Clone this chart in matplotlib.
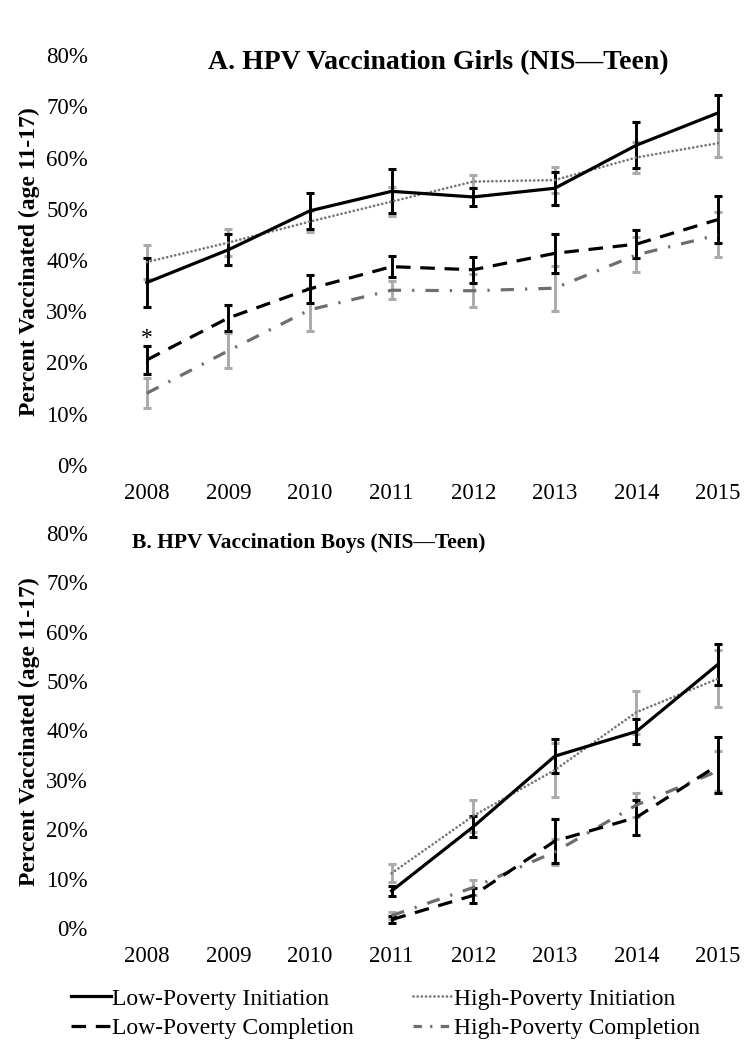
import numpy as np
import matplotlib
matplotlib.use('Agg')
import matplotlib.pyplot as plt
from matplotlib.lines import Line2D
from matplotlib.ticker import FuncFormatter

plt.rcParams['font.family'] = ['Liberation Serif', 'DejaVu Serif']
plt.rcParams['lines.scale_dashes'] = False

years = ['2008', '2009', '2010', '2011', '2012', '2013', '2014', '2015']

# Panel A - girls (percent)
girls_low_init = [35.6, 42.0, 49.6, 53.4, 52.3, 54.0, 62.4, 68.7]
girls_low_init_err = [4.7, 3.0, 3.5, 4.3, 1.7, 3.2, 4.5, 3.4]
girls_high_init = [39.6, 43.4, 47.5, 51.4, 55.3, 55.6, 60.0, 62.8]
girls_high_init_err = [3.4, 2.7, 2.0, 2.9, 1.2, 2.6, 3.1, 2.7]
girls_low_comp = [20.5, 28.7, 34.4, 38.7, 38.1, 41.3, 43.1, 47.9]
girls_low_comp_err = [2.7, 2.6, 2.7, 2.1, 2.5, 3.8, 2.8, 4.6]
girls_high_comp = [14.0, 22.3, 30.3, 34.1, 34.0, 34.5, 41.0, 44.9]
girls_high_comp_err = [2.9, 3.4, 4.2, 1.8, 3.2, 4.4, 3.4, 4.4]

# Panel B - boys, data only from 2011
boys_years = ['2011', '2012', '2013', '2014', '2015']
boys_low_init = [7.5, 20.5, 34.8, 39.8, 53.4]
boys_low_init_err = [1.0, 2.1, 3.4, 2.6, 4.2]
boys_high_init = [11.1, 22.7, 32.0, 43.7, 50.5]
boys_high_init_err = [1.8, 3.2, 5.4, 4.4, 5.8]
boys_low_comp = [1.7, 6.6, 17.6, 22.4, 33.0]
boys_low_comp_err = [0.7, 1.6, 4.4, 3.6, 5.6]
boys_high_comp = [2.5, 8.2, 15.4, 24.9, 31.8]
boys_high_comp_err = [0.7, 1.5, 2.7, 2.5, 4.1]

LW = 2.3
styles = {
    'li': dict(color='black', linestyle='-', lw=LW),
    'hi': dict(color='#777777', linestyle=(0, (0.01, 3.0)), lw=2.0, dash_capstyle='round'),
    'lc': dict(color='black', linestyle=(0, (10.5, 7.0)), lw=LW),
    'hc': dict(color='#6e6e6e', linestyle=(0, (9.5, 8.0, 1.6, 8.0)), lw=LW),
}
err_color = {'li': 'black', 'hi': '#ababab', 'lc': 'black', 'hc': '#ababab'}


def draw_panel(ax, x, series):
    # series: list of (key, values, errors)
    for key, vals, errs in series:
        ax.errorbar(x, vals, yerr=errs, fmt='none', ecolor=err_color[key],
                    elinewidth=2.1, capsize=2.8, capthick=2.2,
                    zorder=2 if key in ('hi', 'hc') else 3)
    for key, vals, errs in series:
        ax.plot(x, vals, zorder=4, **styles[key])
    ax.set_xlim(-0.5, (747 - 106) / 81.6 - 0.5)
    ax.set_ylim(0, 80)
    ax.set_yticks(np.arange(0, 81, 10))
    ax.yaxis.set_major_formatter(FuncFormatter(lambda v, p: f'{int(v)}%'))
    ax.set_xticks(range(len(years)))
    ax.set_xticklabels(years)
    ax.tick_params(axis='both', length=0, labelsize=16.5)
    ax.tick_params(axis='y', pad=13)
    ax.tick_params(axis='x', pad=13)
    for s in ax.spines.values():
        s.set_visible(False)


fig = plt.figure(figsize=(7.47, 10.5), dpi=100)

ax1 = fig.add_axes([106 / 747, 585 / 1050, 641 / 747, 410 / 1050])
xg = np.arange(len(years))
draw_panel(ax1, xg, [
    ('hi', girls_high_init, girls_high_init_err),
    ('li', girls_low_init, girls_low_init_err),
    ('hc', girls_high_comp, girls_high_comp_err),
    ('lc', girls_low_comp, girls_low_comp_err),
])
ax1.text(0, 23.6, '*', ha='center', va='baseline', fontsize=17)

ax2 = fig.add_axes([106 / 747, 122 / 1050, 641 / 747, 395 / 1050])
xb = np.array([years.index(y) for y in boys_years])
draw_panel(ax2, xb, [
    ('hi', boys_high_init, boys_high_init_err),
    ('li', boys_low_init, boys_low_init_err),
    ('hc', boys_high_comp, boys_high_comp_err),
    ('lc', boys_low_comp, boys_low_comp_err),
])

fig.text(438 / 747, 1 - 63 / 1050, 'A. HPV Vaccination Girls (NIS—Teen)',
         ha='center', va='center', fontsize=20, fontweight='bold')
fig.text(309 / 747, 1 - 543 / 1050, 'B. HPV Vaccination Boys (NIS—Teen)',
         ha='center', va='center', fontsize=15.5, fontweight='bold')
fig.text(29 / 747, 1 - 262 / 1050, 'Percent Vaccinated (age 11-17)',
         rotation=90, ha='center', va='center', fontsize=17, fontweight='bold')
fig.text(29 / 747, 1 - 732 / 1050, 'Percent Vaccinated (age 11-17)',
         rotation=90, ha='center', va='center', fontsize=17, fontweight='bold')

handles = [
    Line2D([], [], **styles['li']),
    Line2D([], [], **styles['lc']),
    Line2D([], [], **styles['hi']),
    Line2D([], [], color='#6e6e6e', linestyle=(0, (6.0, 6.0, 1.6, 6.0)), lw=LW),
]
labels = ['Low-Poverty Initiation', 'Low-Poverty Completion',
          'High-Poverty Initiation', 'High-Poverty Completion']
fig.legend(handles, labels, ncol=2, loc='upper left',
           bbox_to_anchor=(71 / 747, 1 - 988 / 1050), frameon=False,
           fontsize=17, handlelength=1.7, handletextpad=0.05,
           columnspacing=2.5, labelspacing=0.33, borderpad=0, borderaxespad=0)

fig.savefig('out.png', dpi=100)
